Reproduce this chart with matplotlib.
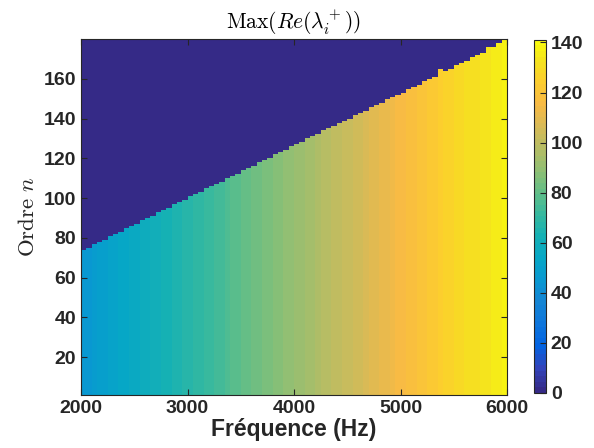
import numpy as np
import matplotlib
matplotlib.use("Agg")
import matplotlib.pyplot as plt
from matplotlib.colors import LinearSegmentedColormap

plt.rcParams['font.family'] = ['Liberation Sans', 'DejaVu Sans']
plt.rcParams['mathtext.fontset'] = 'cm'

# frequency grid (Hz) and order edges
freq = np.arange(2000, 6001, 50)
orders = np.arange(1, 181)

# max of Re(lambda_i^+) read per frequency column
maxre = [45.0, 46.2, 47.3, 48.5, 49.6, 50.8, 51.9, 53.1, 54.2, 55.4,
         56.5, 57.7, 58.8, 60.0, 61.1, 62.3, 63.4, 64.6, 65.7, 66.9,
         68.0, 69.2, 70.3, 71.5, 72.6, 73.8, 74.9, 76.1, 77.2, 78.4,
         79.5, 80.7, 81.8, 83.0, 84.1, 85.3, 86.4, 87.6, 88.7, 89.9,
         91.0, 92.2, 93.4, 94.6, 95.8, 97.0, 98.2, 99.4, 100.6, 101.8,
         103.0, 104.3, 105.6, 106.9, 108.2, 109.5, 110.8, 112.1, 113.4, 114.7,
         116.0, 117.2, 118.4, 119.6, 120.8, 122.0, 123.2, 124.4, 125.6, 126.8,
         128.0, 129.0, 130.0, 131.0, 132.0, 133.0, 134.0, 135.0, 136.0, 137.0,
         138.0]

# highest order n with a non-zero value, per frequency column
boundary = [73, 74, 76, 77, 78, 80, 81, 82, 84, 85,
            86, 88, 89, 90, 92, 93, 94, 96, 97, 98,
            100, 101, 102, 104, 105, 106, 107, 109, 110, 111,
            113, 114, 115, 117, 118, 119, 121, 122, 123, 125,
            126, 127, 129, 130, 131, 133, 134, 135, 137, 138,
            139, 141, 142, 143, 145, 146, 147, 149, 150, 151,
            152, 154, 155, 156, 158, 159, 160, 164, 163, 164,
            166, 167, 168, 170, 171, 172, 175, 175, 177, 179,
            179]

# parula-like colormap, 64 levels
anchors = [(0.2081, 0.1663, 0.5292), (0.1959, 0.2645, 0.7279), (0.0117, 0.3875, 0.8820),
           (0.0498, 0.4586, 0.8641), (0.0793, 0.5200, 0.8312), (0.0343, 0.5966, 0.8199),
           (0.0228, 0.6535, 0.7768), (0.0843, 0.6928, 0.7062), (0.2178, 0.7250, 0.6193),
           (0.3953, 0.7459, 0.5244), (0.5709, 0.7485, 0.4494), (0.7184, 0.7411, 0.3905),
           (0.8507, 0.7299, 0.3360), (0.9739, 0.7314, 0.2666), (0.9880, 0.8066, 0.1794),
           (0.9589, 0.8949, 0.1132), (0.9763, 0.9831, 0.0538)]
pos = [0, 4, 8, 12, 16, 20, 24, 28, 32, 36, 40, 44, 48, 52, 56, 60, 63]
parula = LinearSegmentedColormap.from_list('parula', [(p / 63, c) for p, c in zip(pos, anchors)], N=64)

vals = np.array(maxre)
bnd = np.array(boundary)
Z = np.where(orders[:, None] <= bnd[None, :], vals[None, :], 0.0)
Z = Z[:-1, :-1]  # pcolor drops last row / column

txt = (0.15, 0.15, 0.15)
fig = plt.figure(figsize=(5.94, 4.48), dpi=100)
ax = fig.add_axes([0.1364, 0.1183, 0.7172, 0.7947])
mesh = ax.pcolormesh(freq, orders, Z, cmap=parula, vmin=0, vmax=141,
                     shading='flat', antialiased=False, edgecolors='none')
ax.set_xlim(2000, 6000)
ax.set_ylim(1, 180)
ax.set_xticks([2000, 3000, 4000, 5000, 6000])
ax.set_yticks([20, 40, 60, 80, 100, 120, 140, 160])
ax.tick_params(direction='in', top=True, right=True, length=4, width=0.8,
               color=txt, labelcolor=txt, labelsize=14)
for lab in ax.get_xticklabels() + ax.get_yticklabels():
    lab.set_fontweight('bold')
for s in ax.spines.values():
    s.set_color(txt)
    s.set_linewidth(0.8)

ax.set_xlabel('Fréquence (Hz)', fontsize=16.5, fontweight='bold', color=txt, labelpad=1)
ax.set_ylabel(r'$\mathrm{Ordre}\ n$', fontsize=16.5, color=txt, labelpad=3)
ax.set_title(r'$\mathrm{Max}(Re(\lambda_i^+))$', fontsize=15.5, color='black', pad=7)

cax = fig.add_axes([0.899, 0.1228, 0.0202, 0.788])
cb = fig.colorbar(mesh, cax=cax)
cb.set_ticks([0, 20, 40, 60, 80, 100, 120, 140])
cb.outline.set_edgecolor(txt)
cb.outline.set_linewidth(0.8)
cax.tick_params(direction='in', length=4, width=0.8, color=txt, labelcolor=txt, labelsize=14)
for lab in cax.get_yticklabels():
    lab.set_fontweight('bold')

fig.savefig('out.png', dpi=100)
